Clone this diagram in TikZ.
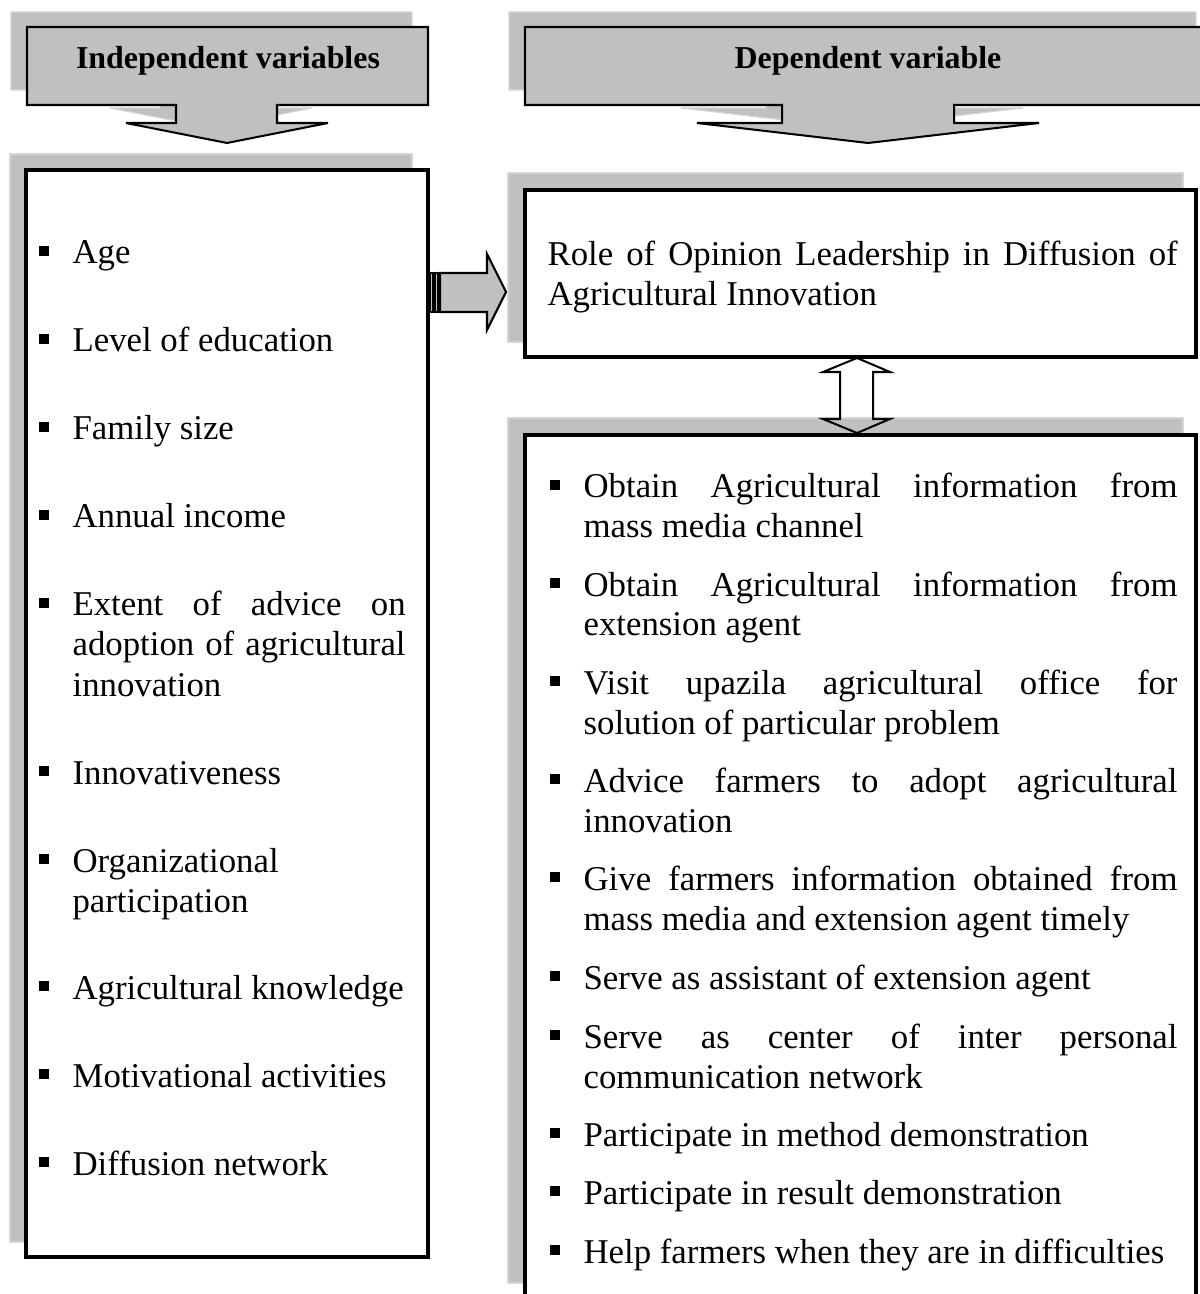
\documentclass[tikz,border=0pt]{standalone}
\usepackage{fontspec}
\setmainfont{Liberation Serif}
\definecolor{callgray}{RGB}{192,192,192}
\definecolor{shadeedge}{RGB}{214,214,214}
\tikzstyle{shade} = [fill=callgray, draw=shadeedge, line width=0.4pt]

\begin{document}
\begin{tikzpicture}[x=0.345pt, y=-0.345pt, font=\fontsize{12}{13.8}\selectfont]
        \tikzstyle{callout} = [fill=callgray, draw=black, line width=0.7pt, line join=miter]
        \tikzstyle{box} = [fill=white, draw=black, line width=1.25pt]
        \tikzstyle{head} = [inner sep=0pt, font=\fontsize{11}{13}\selectfont\bfseries]
        \tikzstyle{leftitem} = [anchor=base west, inner sep=0pt, text width=114.9pt, align=justify]
        \tikzstyle{rightitem} = [anchor=base west, inner sep=0pt, text width=204.9pt, align=justify]

        \useasboundingbox (0,0) rectangle (1200,1294);
        \clip (0,0) rectangle (1200,1294);

        % header callouts, shadow first
        \foreach \dx/\dy/\st in {-16/-15/shade, 0/0/callout} {
            \path[\st, shift={(\dx,\dy)}] (27,27) -- (428,27) -- (428,105) -- (277,105)
                -- (277,123) -- (328,123) -- (227,143) -- (126,123) -- (176,123)
                -- (176,105) -- (27,105) -- cycle;
            \path[\st, shift={(\dx,\dy)}] (525,27) -- (1212,27) -- (1212,105) -- (954,105)
                -- (954,123) -- (1039,123) -- (868,143) -- (697,123) -- (782,123)
                -- (782,105) -- (525,105) -- cycle;
        }
        \node [head] (indep) at (228,61) {Independent variables};
        \node [head] (dep) at (868,61) {Dependent variable};

        % boxes
        \draw [shade] (10,154) rectangle (412,1242);
        \draw [shade] (508,173) rectangle (1183,342);
        \draw [shade] (508,418) rectangle (1183,1283);
        \draw [box] (26,170) rectangle (428,1257);
        \draw [box] (525,190) rectangle (1196,357);
        \draw [box] (525,435) rectangle (1196,1320);

        % striped arrow and up-down arrow
        \draw [callout] (430,273) rectangle (433,312);
        \draw [callout] (435,273) rectangle (438,312);
        \draw [callout] (440,273) -- (487,273) -- (487,254) -- (506,292) -- (487,330)
            -- (487,312) -- (440,312) -- cycle;
        \draw [line width=0.7pt, line join=miter] (857,358) -- (890,372) -- (873,372)
            -- (873,419) -- (890,419) -- (857,433) -- (823,419) -- (840,419)
            -- (840,372) -- (823,372) -- cycle;

        \node [rightitem, text width=217.4pt] (role) at (547,266)
            {Role of Opinion Leadership in Diffusion of\linebreak Agricultural Innovation};

        \foreach \y/\t [count=\i] in {264/Age, 352/Level of education, 440/Family size,
            528/Annual income,
            616/Extent of advice on\linebreak adoption of agricultural\linebreak innovation,
            784/Innovativeness, 872/Organizational\newline participation,
            999/Agricultural knowledge, 1087/Motivational activities,
            1175/Diffusion network} {
            \node [leftitem] (var\i) at (72,\y) {\t};
            \fill (39,\y-8) rectangle (49,\y-18);
        }

        \foreach \y/\t [count=\i] in {
            498/Obtain Agricultural information from\linebreak mass media channel,
            596/Obtain Agricultural information from\linebreak extension agent,
            694/Visit upazila agricultural office for\linebreak solution of particular problem,
            792/Advice farmers to adopt agricultural\linebreak innovation,
            890/Give farmers information obtained from\linebreak mass media and extension agent timely,
            989/Serve as assistant of extension agent,
            1048/Serve as center of inter personal\linebreak communication network,
            1146/Participate in method demonstration,
            1204/Participate in result demonstration,
            1263/Help farmers when they are in difficulties} {
            \node [rightitem] (role\i) at (583,\y) {\t};
            \fill (550,\y-8) rectangle (560,\y-18);
        }
    \end{tikzpicture}
\end{document}
